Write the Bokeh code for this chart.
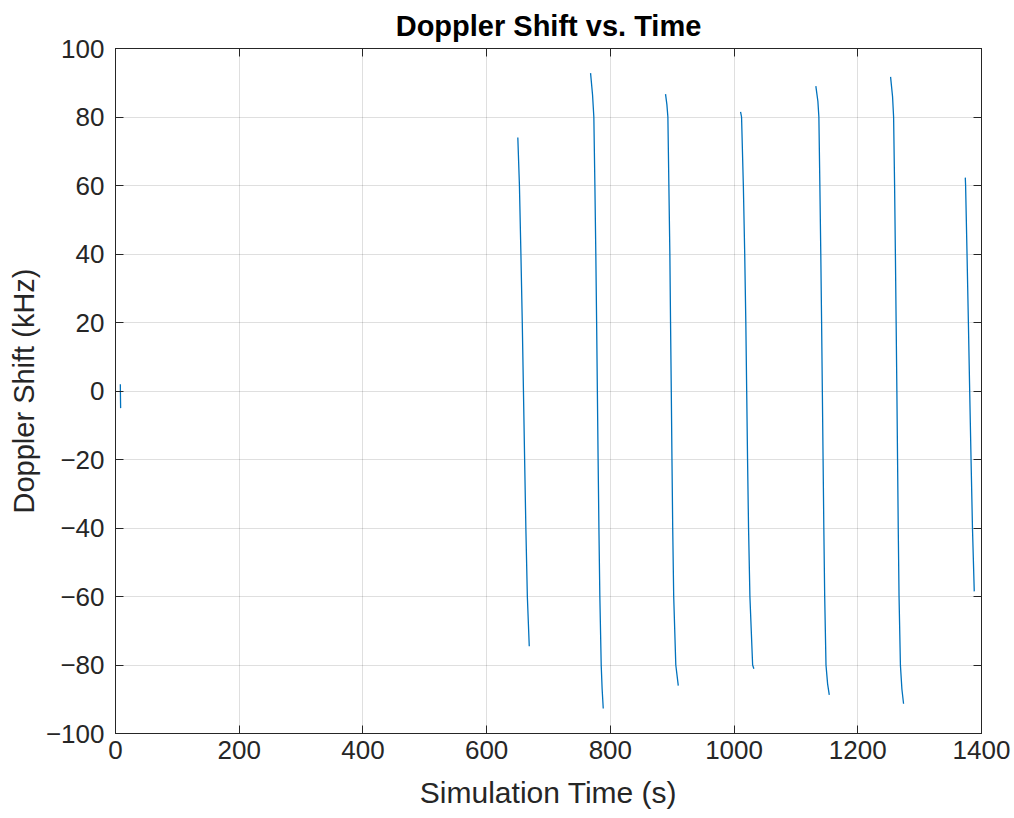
from bokeh.plotting import figure
from bokeh.models import LinearAxis, Range1d, FixedTicker
from bokeh.embed import file_html
from bokeh.resources import INLINE

# --- data (time in s, Doppler shift in kHz) ---
t0 = [7.8, 8.0, 8.3]
d0 = [2.0, -1.5, -5.0]

t1 = [650.4, 653.0, 655.4, 657.6, 659.5, 661.4, 663.4, 665.8, 668.9]
d1 = [74.0, 60.0, 40.0, 20.0, 0.0, -20.0, -40.0, -60.0, -74.5]

t2 = [768.0, 771.2, 773.3, 775.0, 776.5, 777.8, 779.0, 780.2, 781.5, 783.0, 785.2, 786.7, 788.5]
d2 = [92.8, 86.5, 80.0, 60.0, 40.0, 20.0, 0.0, -20.0, -40.0, -60.0, -80.0, -87.0, -92.7]

t3 = [889.2, 891.4, 893.0, 894.6, 896.2, 897.3, 898.5, 899.6, 900.8, 902.4, 905.8, 909.8]
d3 = [86.7, 83.6, 80.0, 60.0, 40.0, 20.0, 0.0, -20.0, -40.0, -60.0, -80.0, -86.0]

t4 = [1010.5, 1012.1, 1015.0, 1017.2, 1019.0, 1020.4, 1021.8, 1023.4, 1025.6, 1030.0, 1032.0]
d4 = [81.5, 80.0, 60.0, 40.0, 20.0, 0.0, -20.0, -40.0, -60.0, -80.0, -81.1]

t5 = [1132.2, 1135.5, 1137.1, 1138.7, 1140.2, 1141.5, 1142.7, 1143.9, 1145.1, 1146.5, 1148.6, 1151.2, 1153.9]
d5 = [89.0, 84.6, 80.0, 60.0, 40.0, 20.0, 0.0, -20.0, -40.0, -60.0, -80.0, -85.5, -88.7]

t6 = [1253.0, 1256.2, 1257.9, 1259.5, 1260.8, 1262.0, 1263.2, 1264.3, 1265.4, 1266.7, 1268.9, 1271.3, 1274.0]
d6 = [91.7, 86.0, 80.0, 60.0, 40.0, 20.0, 0.0, -20.0, -40.0, -60.0, -80.0, -87.0, -91.3]

t7 = [1373.8, 1374.3, 1376.6, 1378.8, 1380.9, 1383.1, 1385.4, 1388.3]
d7 = [62.3, 60.0, 40.0, 20.0, 0.0, -20.0, -40.0, -58.5]

x_ticks = [0, 200, 400, 600, 800, 1000, 1200, 1400]
y_ticks = [-100, -80, -60, -40, -20, 0, 20, 40, 60, 80, 100]

FONT = "Liberation Sans"
DARK = "#262626"

p = figure(width=1014, height=818, output_backend="svg", toolbar_location=None,
           x_range=Range1d(0, 1400), y_range=Range1d(-100, 100),
           x_axis_label="Simulation Time (s)", y_axis_label="Doppler Shift (kHz)",
           title="Doppler Shift vs. Time",
           min_border_left=115, min_border_right=33, min_border_top=47, min_border_bottom=85)

p.background_fill_color = "white"
p.border_fill_color = "white"
p.outline_line_color = DARK
p.outline_line_width = 1

p.title.align = "center"
p.title.text_font = FONT
p.title.text_font_size = "29px"
p.title.text_font_style = "bold"
p.title.text_color = "black"
p.title.text_line_height = 1.0
p.title.standoff = 14

for ax in p.xaxis + p.yaxis:
    ax.axis_line_color = DARK
    ax.major_tick_line_color = DARK
    ax.major_tick_in = 8
    ax.major_tick_out = 0
    ax.minor_tick_line_color = None
    ax.major_label_text_font = FONT
    ax.major_label_text_font_size = "26px"
    ax.major_label_text_color = DARK
    ax.axis_label_text_font = FONT
    ax.axis_label_text_font_style = "normal"
    ax.axis_label_text_color = DARK

p.xaxis.axis_label_text_font_size = "30px"
p.yaxis.axis_label_text_font_size = "29px"
p.xaxis.major_label_text_line_height = 1.0
p.xaxis.axis_label_text_line_height = 1.0
p.xaxis.ticker = FixedTicker(ticks=x_ticks)
p.yaxis.ticker = FixedTicker(ticks=y_ticks)
p.xaxis.major_label_standoff = 7
p.yaxis.major_label_standoff = 11
p.xaxis.axis_label_standoff = 14
p.yaxis.axis_label_standoff = 3

# mirror axes (box with inward ticks)
top = LinearAxis(ticker=FixedTicker(ticks=x_ticks), major_label_text_font_size="0px",
                 major_tick_in=8, major_tick_out=0, minor_tick_line_color=None,
                 axis_line_color=DARK, major_tick_line_color=DARK,
                 major_label_standoff=0)
right = LinearAxis(ticker=FixedTicker(ticks=y_ticks), major_label_text_font_size="0px",
                   major_tick_in=8, major_tick_out=0, minor_tick_line_color=None,
                   axis_line_color=DARK, major_tick_line_color=DARK,
                   major_label_standoff=0)
top.major_label_overrides = {t: "" for t in x_ticks}
right.major_label_overrides = {t: "" for t in y_ticks}
p.add_layout(top, "above")
p.add_layout(right, "right")

p.xgrid.ticker = FixedTicker(ticks=x_ticks)
p.ygrid.ticker = FixedTicker(ticks=y_ticks)
for g in (p.xgrid, p.ygrid):
    g.grid_line_color = DARK
    g.grid_line_alpha = 0.15
    g.grid_line_width = 1

LINE = "#0072BD"
for tt, dd in [(t0, d0), (t1, d1), (t2, d2), (t3, d3), (t4, d4), (t5, d5), (t6, d6), (t7, d7)]:
    p.line(tt, dd, line_color=LINE, line_width=1.3)

open("out.html", "w").write(file_html(p, INLINE))
